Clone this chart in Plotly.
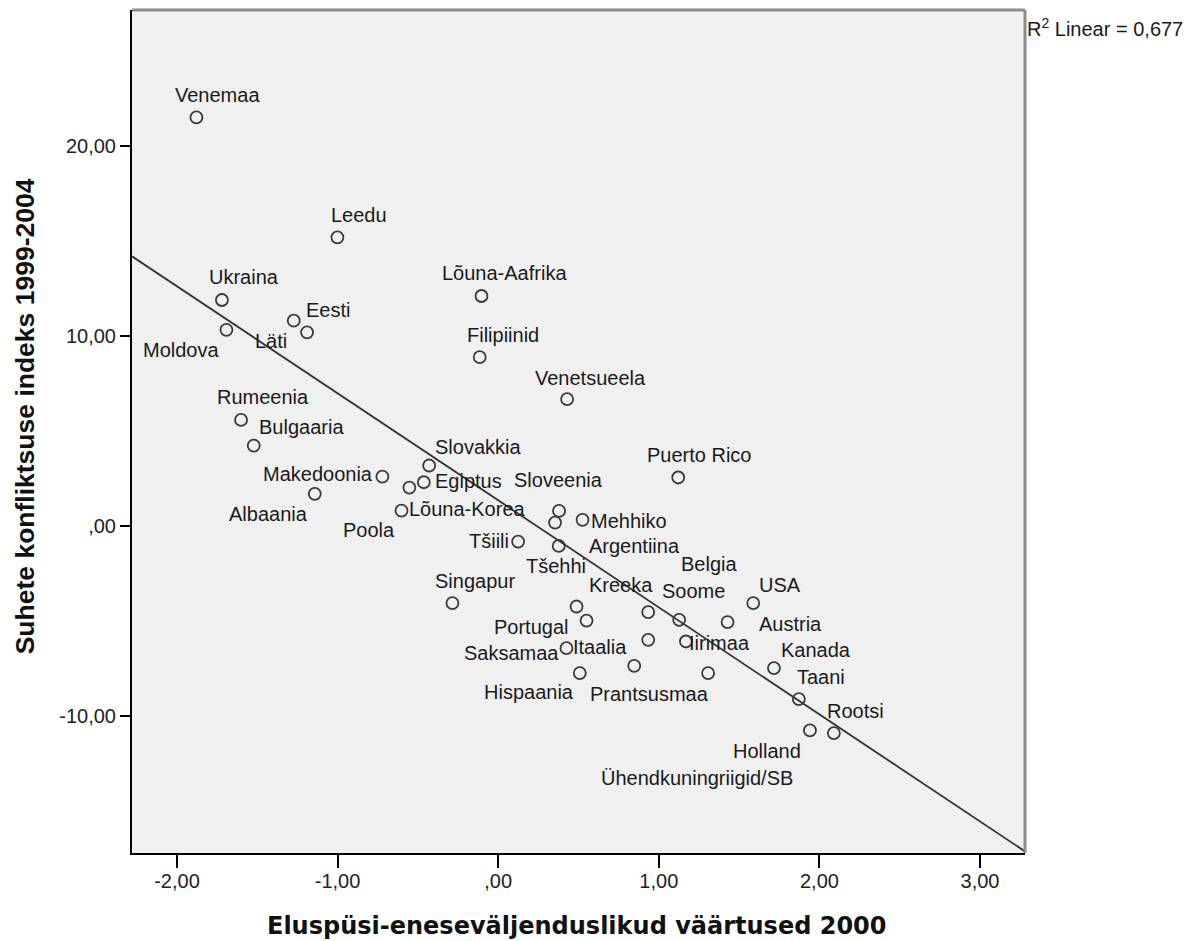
import numpy as np
import plotly.graph_objects as go

# ---------------- data ----------------
countries = [
    "Venemaa", "Leedu", "Ukraina", "Eesti", "Läti", "Moldova", "Lõuna-Aafrika",
    "Filipiinid", "Venetsueela", "Rumeenia", "Bulgaaria", "Makedoonia", "Albaania",
    "Slovakkia", "Egiptus", "Lõuna-Korea", "Poola", "Puerto Rico", "Sloveenia",
    "Argentiina", "Mehhiko", "Tšiili", "Tšehhi", "Singapur", "Kreeka", "Portugal",
    "Soome", "Belgia", "Austria", "USA", "Itaalia", "Iirimaa", "Saksamaa",
    "Hispaania", "Prantsusmaa", "Ühendkuningriigid/SB", "Kanada", "Taani",
    "Holland", "Rootsi",
]
self_expression = [
    -1.879, -1.001, -1.720, -1.190, -1.273, -1.692, -0.104,
    -0.115, 0.429, -1.601, -1.522, -0.721, -1.142,
    -0.430, -0.463, -0.553, -0.602, 1.121, 0.379,
    0.354, 0.525, 0.124, 0.377, -0.285, 0.488, 0.550,
    0.934, 1.127, 1.428, 1.588, 0.934, 1.169, 0.425,
    0.508, 0.847, 1.307, 1.717, 1.872,
    1.941, 2.090,
]
conflict_index = [
    21.49, 15.18, 11.88, 10.18, 10.79, 10.31, 12.09,
    8.87, 6.66, 5.57, 4.22, 2.59, 1.68,
    3.17, 2.29, 2.01, 0.80, 2.54, 0.78,
    0.17, 0.31, -0.83, -1.06, -4.07, -4.25, -4.99,
    -4.54, -4.95, -5.07, -4.07, -6.00, -6.09, -6.44,
    -7.75, -7.37, -7.75, -7.49, -9.12,
    -10.77, -10.91,
]
r2_text = "R<sup>2</sup> Linear = 0,677"

x_tickvals = [-2, -1, 0, 1, 2, 3]
x_ticktext = ["-2,00", "-1,00", ",00", "1,00", "2,00", "3,00"]
y_tickvals = [-10, 0, 10, 20]
y_ticktext = ["-10,00", ",00", "10,00", "20,00"]

x_title = "Eluspüsi-eneseväljenduslikud väärtused 2000"
y_title = "Suhete konfliktsuse indeks 1999-2004"

# ---------------- label placement (pixel offsets from each point) ----------------
label_dx = [
    21, 22, 22, 21.4, -23, -45.7, 23,
    23.5, 23, 21.7, 48, -64, -46.3,
    48.5, 44.3, 57.8, -33, 21.7, -0.5,
    79.4, 46.6, -29.6, -2.7, 22.8, 44.8, -54.9,
    45.7, 29.7, 63.3, 26.7, -48.6, 34, -55,
    -50.5, 15.2, -10.8, 42, 22,
    -43.3, 21.3,
]
label_dy = [
    22, 22, 23.5, 22.6, -20.3, -20.5, 23,
    22.6, 21.3, 22.5, 18.7, 2.7, -20,
    18.7, 1.3, -21.3, -19.3, 22.7, 31,
    -23.1, -1, 0.7, -20, 22.3, 21.7, -6,
    21.3, 56, -1.4, 18.3, -7, -1.3, -5.2,
    -19.2, -28, -104.7, 18.3, 21.8,
    -20.3, 21.6,
]

x_range = [-2.280, 3.280]
y_range = [-17.22, 27.14]

# ---------------- linear fit from the data ----------------
slope, intercept = np.polyfit(self_expression, conflict_index, 1)
line_x = np.array(x_range)
line_y = intercept + slope * line_x

label_font = dict(family="Liberation Sans, Arial, sans-serif", size=20, color="#1a1a1a")

fig = go.Figure()
fig.add_trace(go.Scatter(
    x=line_x, y=line_y, mode="lines",
    line=dict(color="#333333", width=1.8), hoverinfo="skip",
))
fig.add_trace(go.Scatter(
    x=self_expression, y=conflict_index, mode="markers", text=countries,
    marker=dict(symbol="circle-open", size=12, color="#3a3a3a", line=dict(width=1.8)),
))

annotations = []
for name, xv, yv, dx, dy in zip(countries, self_expression, conflict_index, label_dx, label_dy):
    annotations.append(dict(
        x=xv, y=yv, xref="x", yref="y", text=name, showarrow=False,
        xanchor="center", yanchor="middle", xshift=dx, yshift=dy, font=label_font,
    ))

annotations.append(dict(
    x=1, y=1, xref="paper", yref="paper", text=r2_text, showarrow=False,
    xanchor="left", yanchor="middle", xshift=0, yshift=-17, font=label_font,
))
annotations.append(dict(
    x=0.4987, y=0, xref="paper", yref="paper", text="<b>" + x_title + "</b>", showarrow=False,
    xanchor="center", yanchor="middle", yshift=-72.7,
    font=dict(family="DejaVu Sans, sans-serif", size=24, color="#111111"),
))
annotations.append(dict(
    x=0, y=0.518, xref="paper", yref="paper", text="<b>" + y_title + "</b>", showarrow=False,
    xanchor="center", yanchor="middle", xshift=-107, textangle=-90,
    font=dict(family="Liberation Sans, Arial, sans-serif", size=26.5, color="#111111"),
))

tick_font = dict(family="Liberation Sans, Arial, sans-serif", size=20, color="#222222")

# The page body has an 8px margin, so the figure is sized and padded to land
# its plot area on the same pixels as the reference.
fig.update_layout(
    width=1194, height=933,
    margin=dict(l=124, r=177, t=2, b=88),
    paper_bgcolor="white", plot_bgcolor="#f0f0f0",
    showlegend=False,
    annotations=annotations,
    xaxis=dict(
        range=x_range, tickvals=x_tickvals, ticktext=x_ticktext,
        ticks="outside", ticklen=13, tickwidth=2, tickcolor="black",
        ticklabelstandoff=-4,
        showline=True, linecolor="black", linewidth=2,
        showgrid=False, zeroline=False, tickfont=tick_font,
    ),
    yaxis=dict(
        range=y_range, tickvals=y_tickvals, ticktext=y_ticktext,
        ticks="outside", ticklen=10, tickwidth=2, tickcolor="black",
        showline=True, linecolor="black", linewidth=2,
        showgrid=False, zeroline=False, tickfont=tick_font,
    ),
    shapes=[
        dict(type="line", xref="paper", yref="paper", x0=0, x1=1, y0=1, y1=1,
             line=dict(color="#8c8c8c", width=3)),
        dict(type="line", xref="paper", yref="paper", x0=1, x1=1, y0=0, y1=1,
             line=dict(color="#8c8c8c", width=3)),
    ],
)

fig.write_html("out.html")
